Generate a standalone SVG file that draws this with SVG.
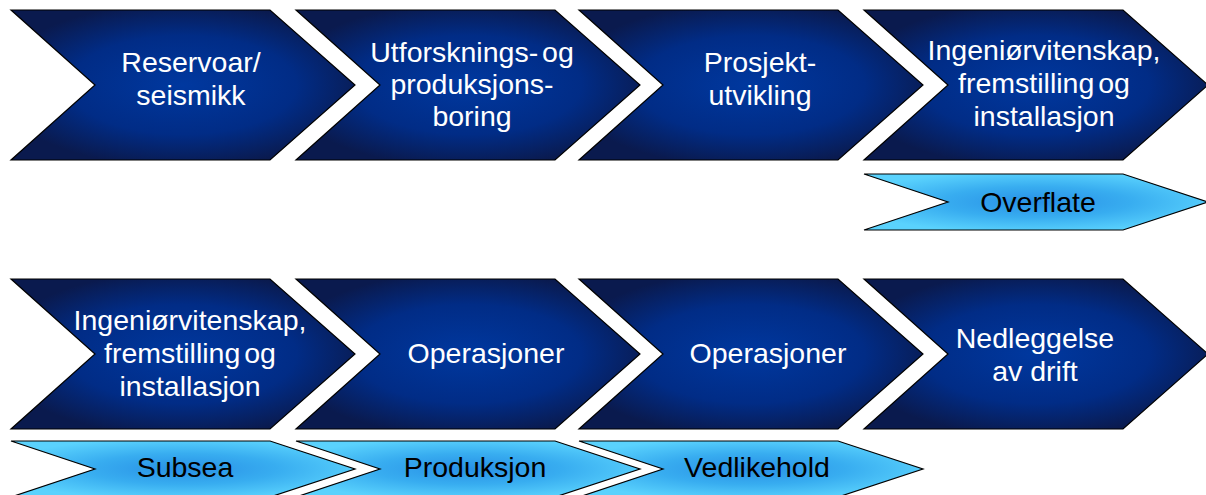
<svg xmlns="http://www.w3.org/2000/svg" xmlns:xlink="http://www.w3.org/1999/xlink" width="1206" height="495" viewBox="0 0 1206 495">
  <style>
    .dark { fill: url(#gradDark); stroke: #000; stroke-width: 1.2; stroke-linejoin: miter; }
    .light { fill: url(#gradLight); stroke: #000; stroke-width: 1.2; stroke-linejoin: miter; }
    .tw { font-family: "Liberation Sans", Arial, sans-serif; font-size: 28.5px; fill: #ffffff; text-anchor: middle; }
    .tight { word-spacing: -4px; }
    .tb { font-family: "Liberation Sans", Arial, sans-serif; font-size: 28.5px; fill: #000000; text-anchor: middle; }
  </style>
  <defs>
    <radialGradient id="gradDark" cx="0.5" cy="0.5" r="0.55">
      <stop offset="0" stop-color="#00389f"/>
      <stop offset="0.6" stop-color="#012c86"/>
      <stop offset="1" stop-color="#0a1a4e"/>
    </radialGradient>
    <radialGradient id="gradLight" cx="0.5" cy="0.5" r="0.55">
      <stop offset="0" stop-color="#2890e6"/>
      <stop offset="0.5" stop-color="#38adf0"/>
      <stop offset="1" stop-color="#5ad2fd"/>
    </radialGradient>
    <!-- chevron outlines drawn at the origin, placed with x/y on <use> -->
    <path id="chevBig" d="M0,0 H259 L344,75 L259,150 H0 L84,75 Z"/>
    <path id="chevSmall" d="M0,0 H259 L344,28 L259,56 H0 L84,28 Z"/>
  </defs>

  <rect width="1206" height="495" fill="#ffffff"/>

  <!-- upper value chain -->
  <g id="node-reservoar">
    <use xlink:href="#chevBig" x="11" y="10" class="dark"/>
    <text class="tw" x="191" y="72">Reservoar/</text>
    <text class="tw" x="191" y="105">seismikk</text>
  </g>
  <g id="node-boring">
    <use xlink:href="#chevBig" x="296" y="10" class="dark"/>
    <text class="tw tight" x="472" y="62">Utforsknings- og</text>
    <text class="tw" x="472" y="94">produksjons-</text>
    <text class="tw" x="472" y="126">boring</text>
  </g>
  <g id="node-prosjekt">
    <use xlink:href="#chevBig" x="579" y="10" class="dark"/>
    <text class="tw" x="760" y="72">Prosjekt-</text>
    <text class="tw" x="760" y="105">utvikling</text>
  </g>
  <g id="node-eng-top">
    <use xlink:href="#chevBig" x="864" y="10" class="dark"/>
    <text class="tw" x="1044" y="60">Ingeniørvitenskap,</text>
    <text class="tw tight" x="1044" y="93">fremstilling og</text>
    <text class="tw" x="1044" y="126">installasjon</text>
  </g>
  <g id="node-overflate">
    <use xlink:href="#chevSmall" x="864" y="174" class="light"/>
    <text class="tb" x="1038" y="212">Overflate</text>
  </g>

  <!-- lower value chain -->
  <g id="node-eng-bottom">
    <use xlink:href="#chevBig" x="11" y="279" class="dark"/>
    <text class="tw" x="190" y="330">Ingeniørvitenskap,</text>
    <text class="tw tight" x="190" y="363">fremstilling og</text>
    <text class="tw" x="190" y="396">installasjon</text>
  </g>
  <g id="node-operasjoner-1">
    <use xlink:href="#chevBig" x="296" y="279" class="dark"/>
    <text class="tw" x="486" y="363">Operasjoner</text>
  </g>
  <g id="node-operasjoner-2">
    <use xlink:href="#chevBig" x="579" y="279" class="dark"/>
    <text class="tw" x="768" y="363">Operasjoner</text>
  </g>
  <g id="node-nedleggelse">
    <use xlink:href="#chevBig" x="864" y="279" class="dark"/>
    <text class="tw" x="1035" y="348">Nedleggelse</text>
    <text class="tw" x="1035" y="381">av drift</text>
  </g>
  <g id="node-subsea">
    <use xlink:href="#chevSmall" x="11" y="441" class="light"/>
    <text class="tb" x="185" y="477">Subsea</text>
  </g>
  <g id="node-produksjon">
    <use xlink:href="#chevSmall" x="296" y="441" class="light"/>
    <text class="tb" x="475" y="477">Produksjon</text>
  </g>
  <g id="node-vedlikehold">
    <use xlink:href="#chevSmall" x="579" y="441" class="light"/>
    <text class="tb" x="757" y="477">Vedlikehold</text>
  </g>
</svg>
